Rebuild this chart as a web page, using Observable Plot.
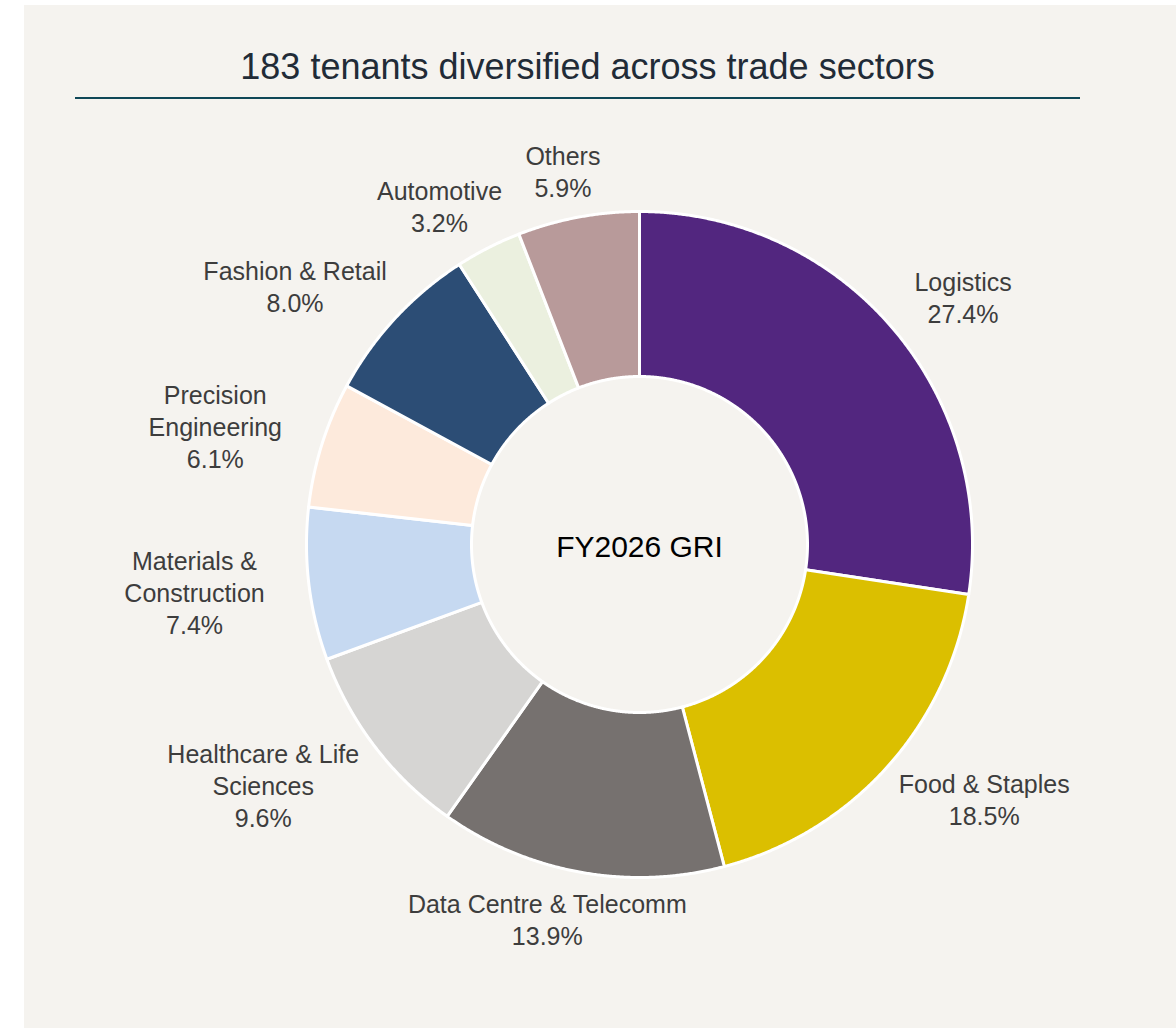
<!DOCTYPE html>
<html>
<head>
<meta charset="utf-8">
<script src="https://cdn.jsdelivr.net/npm/d3@7"></script>
<script src="https://cdn.jsdelivr.net/npm/@observablehq/plot@0.6"></script>
<style>
  html, body { margin: 0; padding: 0; background: #ffffff; }
  #panel {
    position: absolute; left: 24px; top: 5px; width: 1152px; height: 1023px;
    background: #f5f3ef; font-family: "Liberation Sans", Arial, Helvetica, sans-serif;
  }
  #title {
    position: absolute; left: 0; top: 40px; width: 1127px; height: 44px;
    line-height: 44px; text-align: center; font-size: 36px; color: #212b37;
  }
  #rule {
    position: absolute; left: 51px; top: 92px; width: 1005px; height: 2px; background: #0f4757;
  }
  #chart { position: absolute; left: 0; top: 100px; }
</style>
</head>
<body>
<div id="panel">
  <div id="title"></div>
  <div id="rule"></div>
  <div id="chart"></div>
</div>
<script>
const titleText = "183 tenants diversified across trade sectors";
const centerLabel = "FY2026 GRI";
const sectors = ["Logistics", "Food & Staples", "Data Centre & Telecomm", "Healthcare & Life\nSciences", "Materials &\nConstruction", "Precision\nEngineering", "Fashion & Retail", "Automotive", "Others"];
const shares = [27.4, 18.5, 13.9, 9.6, 7.4, 6.1, 8.0, 3.2, 5.9];
const colors = ["#52267f", "#dbbf00", "#76716f", "#d6d5d3", "#c6d9f1", "#fdeadc", "#2c4d75", "#ebf0df", "#b89a9a"];

document.getElementById("title").textContent = titleText;

const W = 1152, H = 923;
const cx = 615, cy = 439;      // donut centre in svg pixels
const R = 333, r = 168;
const labelRx = 378, labelRy = 348;
const fontSize = 25, lineH = 32;

const rows = sectors.map((name, i) => ({name, share: shares[i]}));
const arcs = d3.pie().sort(null).value(d => d.share).startAngle(0).endAngle(2 * Math.PI)(rows);

// slice polygons in pixel-unit data space (y up)
const poly = [];
arcs.forEach(a => {
  const n = Math.max(2, Math.ceil((a.endAngle - a.startAngle) / 0.004));
  for (let k = 0; k <= n; k++) {
    const t = a.startAngle + (a.endAngle - a.startAngle) * k / n;
    poly.push({name: a.data.name, x: R * Math.sin(t), y: R * Math.cos(t)});
  }
  for (let k = n; k >= 0; k--) {
    const t = a.startAngle + (a.endAngle - a.startAngle) * k / n;
    poly.push({name: a.data.name, x: r * Math.sin(t), y: r * Math.cos(t)});
  }
});

// labels placed outside the ring
const ctx = document.createElement("canvas").getContext("2d");
ctx.font = `${fontSize}px "Liberation Sans", Arial, sans-serif`;
const labels = arcs.map(a => {
  const text = a.data.name + "\n" + a.data.share.toFixed(1) + "%";
  const lines = text.split("\n");
  const w = Math.max(...lines.map(l => ctx.measureText(l).width));
  const h = lines.length * lineH;
  const mid = (a.startAngle + a.endAngle) / 2;
  const ax = labelRx * Math.sin(mid), ay = labelRy * Math.cos(mid);
  return {text, x: ax + Math.sin(mid) * w / 2, y: ay + Math.cos(mid) * h / 2};
});

const chart = Plot.plot({
  width: W, height: H,
  marginTop: 0, marginRight: 0, marginBottom: 0, marginLeft: 0,
  x: {domain: [-cx, W - cx], axis: null},
  y: {domain: [-(H - cy), cy], axis: null},
  color: {domain: sectors, range: colors},
  style: {background: "transparent", fontFamily: '"Liberation Sans", Arial, sans-serif', overflow: "visible"},
  marks: [
    Plot.line(poly, {x: "x", y: "y", z: "name", fill: "name", stroke: "#ffffff", strokeWidth: 3, strokeLinejoin: "round", curve: "linear-closed"}),
    Plot.text(labels, {x: "x", y: "y", text: "text", fontSize, lineHeight: lineH / fontSize, lineAnchor: "middle", textAnchor: "middle", fill: "#3d3d3d"}),
    Plot.text([{x: 0, y: 0, t: centerLabel}], {x: "x", y: "y", text: "t", fontSize: 30, fill: "#000000", dy: 3})
  ]
});
document.getElementById("chart").appendChild(chart);
</script>
</body>
</html>
